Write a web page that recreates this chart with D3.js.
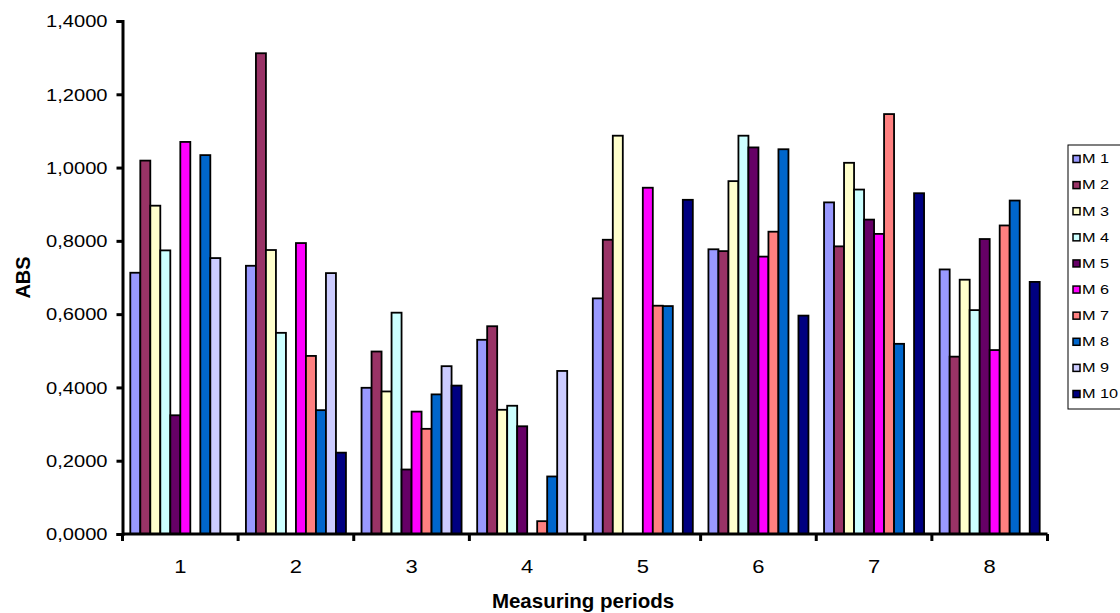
<!DOCTYPE html>
<html lang="en">
<head>
    <meta charset="UTF-8">
    <script src="https://cdn.jsdelivr.net/npm/d3@7/dist/d3.min.js"></script>
    <style>
        body{ margin:0; background:#fff; }
        svg text{ font-family:"Liberation Sans", Arial, sans-serif; fill:#000; }
    </style>
    <title>ABS by measuring period</title>
</head>
<body>
    <script>
        // measuring periods and series
        var periods = ["1","2","3","4","5","6","7","8"];
        var series = ["M 1","M 2","M 3","M 4","M 5","M 6","M 7","M 8","M 9","M 10"];
        var colors = ["#9999FF","#993366","#FFFFCC","#CCFFFF","#660066","#FF00FF","#FF8080","#0066CC","#CCCCFF","#000080"];
        var yTicks = [0,0.2,0.4,0.6,0.8,1.0,1.2,1.4];

        // one array per series, a value per period (null = no bar)
        var m1  = [0.713,0.732,0.399,0.530,0.643,0.777,0.905,0.722];
        var m2  = [1.019,1.312,0.498,0.567,0.803,0.772,0.785,0.484];
        var m3  = [0.896,0.775,0.389,0.339,1.087,0.963,1.013,0.694];
        var m4  = [0.774,0.549,0.604,0.350,null,1.087,0.940,0.611];
        var m5  = [0.324,null,0.176,0.294,null,1.055,0.858,0.805];
        var m6  = [1.070,0.794,0.334,null,0.945,0.757,0.819,0.502];
        var m7  = [null,0.486,0.287,0.035,0.623,0.825,1.146,0.842];
        var m8  = [1.034,0.338,0.381,0.157,0.622,1.050,0.519,0.910];
        var m9  = [0.753,0.712,0.458,0.445,null,null,null,null];
        var m10 = [null,0.222,0.405,null,0.912,0.596,0.930,0.688];
        var values = [m1,m2,m3,m4,m5,m6,m7,m8,m9,m10];

        var W = 1120, H = 613;
        var pLeft = 122.5, pRight = 1047.5, pTop = 21, pBottom = 534;

        var svg = d3.select("body").append("svg")
            .attr("width",W).attr("height",H);

        var x0 = d3.scaleBand().domain(periods).range([pLeft,pRight]).padding(0);
        var x1 = d3.scaleBand().domain(series).range([0,x0.bandwidth()])
            .paddingInner(0).paddingOuter(0.78);
        var y = d3.scaleLinear().domain([0,1.4]).range([pBottom,pTop]);

        var fmt = function(d){ return d3.format(".4f")(d).replace(".",","); };

        // bars
        var groups = svg.selectAll("g.period")
            .data(periods)
            .enter().append("g")
            .attr("class","period")
            .attr("transform",function(d){ return "translate("+x0(d)+",0)"; });

        groups.selectAll("rect")
            .data(function(p,i){
                return series.map(function(s,j){ return {s:s, v:values[j][i], c:colors[j]}; })
                    .filter(function(d){ return d.v != null; });
            })
            .enter().append("rect")
            .attr("x",function(d){ return x1(d.s); })
            .attr("y",function(d){ return y(d.v); })
            .attr("width",x1.bandwidth())
            .attr("height",function(d){ return pBottom - y(d.v); })
            .attr("fill",function(d){ return d.c; })
            .attr("stroke","#000")
            .attr("stroke-width",1.8);

        // y axis
        var yAxis = svg.append("g")
            .attr("transform","translate("+pLeft+",0)")
            .call(d3.axisLeft(y).tickValues(yTicks).tickSize(6).tickFormat(fmt));
        yAxis.select(".domain").attr("stroke","#000").attr("stroke-width",3);
        yAxis.selectAll(".tick line").attr("stroke","#000").attr("stroke-width",3);
        yAxis.selectAll(".tick text")
            .attr("x",0).attr("dy",null).attr("dominant-baseline","central")
            .style("font-size","16.5px")
            .attr("text-anchor","end")
            .attr("transform","translate(-15,0) scale(1.22,1)");

        // x axis: ticks at period boundaries, labels centered
        var bounds = periods.map(function(p){ return x0(p); }).concat([pRight]);
        var xg = svg.append("g");
        xg.append("line")
            .attr("x1",pLeft).attr("x2",pRight)
            .attr("y1",pBottom).attr("y2",pBottom)
            .attr("stroke","#000").attr("stroke-width",3);
        xg.selectAll("line.tk")
            .data(bounds)
            .enter().append("line")
            .attr("class","tk")
            .attr("x1",function(d){ return d; }).attr("x2",function(d){ return d; })
            .attr("y1",pBottom).attr("y2",pBottom+7)
            .attr("stroke","#000").attr("stroke-width",3);
        xg.selectAll("text")
            .data(periods)
            .enter().append("text")
            .attr("text-anchor","middle")
            .style("font-size","18px")
            .attr("transform",function(d){
                return "translate("+(x0(d)+x0.bandwidth()/2)+",573) scale(1.22,1)";
            })
            .text(function(d){ return d; });

        // axis titles
        svg.append("text")
            .attr("text-anchor","middle")
            .style("font-size","20.5px").style("font-weight","bold")
            .attr("transform","translate("+((pLeft+pRight)/2 - 2)+",608)")
            .text("Measuring periods");
        svg.append("text")
            .attr("text-anchor","middle")
            .style("font-size","20px").style("font-weight","bold")
            .attr("transform","translate(30,"+((pTop+pBottom)/2)+") rotate(-90)")
            .text("ABS");

        // legend
        var lg = svg.append("g").attr("transform","translate(1068,145)");
        lg.append("rect")
            .attr("width",60).attr("height",264)
            .attr("fill","#fff").attr("stroke","#000").attr("stroke-width",1);
        var rowY = d3.scalePoint().domain(series).range([14,249]);
        var items = lg.selectAll("g.item")
            .data(series)
            .enter().append("g")
            .attr("class","item")
            .attr("transform",function(d){ return "translate(0,"+rowY(d)+")"; });
        items.append("rect")
            .attr("x",5).attr("y",-3.5)
            .attr("width",7).attr("height",7)
            .attr("fill",function(d,i){ return colors[i]; })
            .attr("stroke","#000").attr("stroke-width",1.5);
        items.append("text")
            .attr("dominant-baseline","central")
            .style("font-size","12.5px")
            .attr("transform","translate(14,0) scale(1.3,1)")
            .text(function(d){ return d; });
    </script>
</body>
</html>
